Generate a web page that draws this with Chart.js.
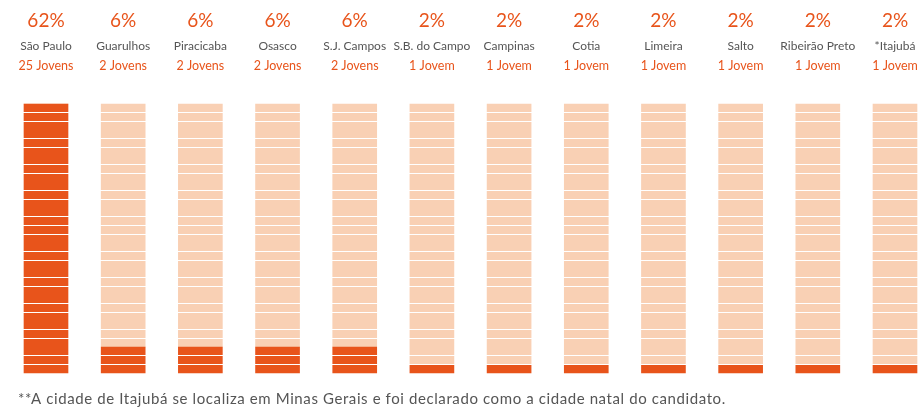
<!DOCTYPE html>
<html>
<head>
<meta charset="utf-8">
<script src="https://cdn.jsdelivr.net/npm/chart.js@4/dist/chart.umd.min.js"></script>
<style>
  html, body { margin: 0; padding: 0; background: #ffffff; }
  #wrap { width: 919px; height: 407px; position: relative; }
</style>
</head>
<body>
<div id="wrap"><canvas id="c" width="919" height="407"></canvas></div>
<script>
// ---- data ----
const cities = ["São Paulo", "Guarulhos", "Piracicaba", "Osasco", "S.J. Campos", "S.B. do Campo", "Campinas", "Cotia", "Limeira", "Salto", "Ribeirão Preto", "*Itajubá"];
const percents = [62, 6, 6, 6, 6, 2, 2, 2, 2, 2, 2, 2];
const counts = [25, 2, 2, 2, 2, 1, 1, 1, 1, 1, 1, 1];
const percentLabels = ["62%", "6%", "6%", "6%", "6%", "2%", "2%", "2%", "2%", "2%", "2%", "2%"];
const countLabels = ["25 Jovens", "2 Jovens", "2 Jovens", "2 Jovens", "2 Jovens", "1 Jovem", "1 Jovem", "1 Jovem", "1 Jovem", "1 Jovem", "1 Jovem", "1 Jovem"];
const footnote = "**A cidade de Itajubá se localiza em Minas Gerais e foi declarado como a cidade natal do candidato.";

// ---- style ----
const DARK = "#E8541B";
const LIGHT = "#F9D0B4";
const NAME_COLOR = "#555555";
const SCALE_MAX = 62;
const STEP = 2;
const hiddenSeparators = [6, 12, 18, 24, 30, 38, 44, 50, 56];

const remainder = percents.map(v => SCALE_MAX - v);

const separatorPlugin = {
  id: 'separators',
  afterDatasetsDraw(chart) {
    const y = chart.scales.y;
    const ctx = chart.ctx;
    ctx.save();
    ctx.fillStyle = '#ffffff';
    for (let v = STEP; v < SCALE_MAX; v += STEP) {
      if (hiddenSeparators.includes(v)) continue;
      const py = y.getPixelForValue(v);
      ctx.fillRect(0, Math.floor(py), chart.width, 1);
    }
    ctx.restore();
  }
};

const labelPlugin = {
  id: 'topLabels',
  afterDraw(chart) {
    const x = chart.scales.x;
    const ctx = chart.ctx;
    ctx.save();
    ctx.textAlign = 'center';
    ctx.textBaseline = 'middle';
    cities.forEach((c, i) => {
      const px = x.getPixelForValue(i);
      ctx.fillStyle = DARK;
      ctx.font = '19px Lato, "Open Sans", sans-serif';
      ctx.fillText(percentLabels[i], px, 21);
      ctx.fillStyle = NAME_COLOR;
      ctx.font = '12px Lato, "Open Sans", sans-serif';
      ctx.fillText(c, px, 46);
      ctx.fillStyle = DARK;
      ctx.font = '12.5px Lato, "Open Sans", sans-serif';
      ctx.fillText(countLabels[i], px, 66);
    });
    ctx.textAlign = 'left';
    ctx.fillStyle = NAME_COLOR;
    ctx.font = '15px Lato, "Open Sans", sans-serif';
    if ('letterSpacing' in ctx) ctx.letterSpacing = '0.6px';
    ctx.fillText(footnote, 18, 399);
    ctx.restore();
  }
};

new Chart(document.getElementById('c'), {
  type: 'bar',
  data: {
    labels: cities,
    datasets: [
      { label: 'Jovens', data: percents, backgroundColor: DARK, borderWidth: 0, barThickness: 44, clip: false },
      { label: 'Restante', data: remainder, backgroundColor: LIGHT, borderWidth: 0, barThickness: 44, clip: false }
    ]
  },
  options: {
    responsive: false,
    devicePixelRatio: 1,
    animation: false,
    layout: { padding: { top: 104, bottom: 34, left: 46, right: 24 } },
    plugins: { legend: { display: false }, tooltip: { enabled: false }, title: { display: false } },
    scales: {
      x: { display: false, stacked: true, offset: false, grid: { display: false } },
      y: { display: false, stacked: true, min: 0, max: SCALE_MAX, grid: { display: false } }
    }
  },
  plugins: [separatorPlugin, labelPlugin]
});
</script>
</body>
</html>
